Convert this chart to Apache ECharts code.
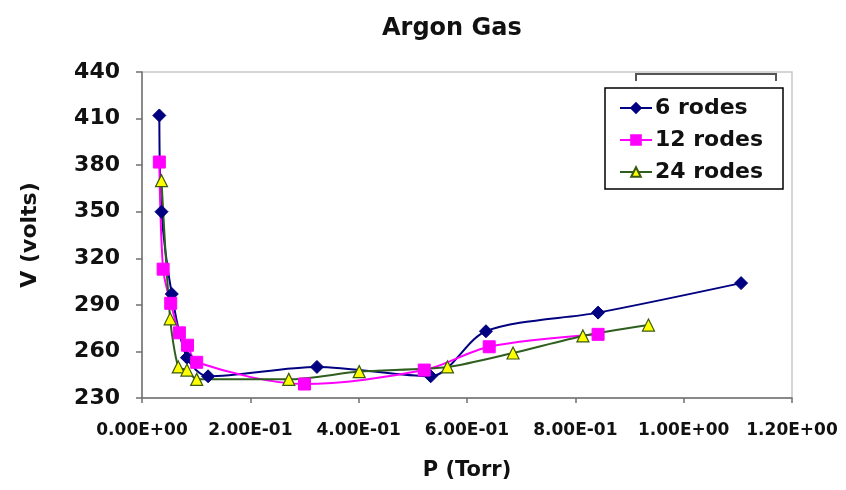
<!DOCTYPE html>
<html>
<head>
<meta charset="utf-8">
<script src="https://cdn.jsdelivr.net/npm/echarts@6/dist/echarts.min.js"></script>
<style>
html,body{margin:0;padding:0;background:#fff;}
#chart{width:846px;height:490px;}
</style>
</head>
<body>
<div id="chart"></div>
<script>
// Data (P in Torr, V in volts)
const rodes6P  = [0.032, 0.036, 0.055, 0.083, 0.122, 0.323, 0.533, 0.635, 0.842, 1.106];
const rodes6V  = [412,   350,   297,   256,   244,   250,   244,   273,   285,   304];
const rodes12P = [0.032, 0.039, 0.053, 0.069, 0.084, 0.101, 0.300, 0.521, 0.641, 0.842];
const rodes12V = [382,   313,   291,   272,   264,   253,   239,   248,   263,   271];
const rodes24P = [0.036, 0.052, 0.067, 0.083, 0.101, 0.271, 0.401, 0.564, 0.685, 0.814, 0.935];
const rodes24V = [370,   281,   250,   248,   242,   242,   247,   250,   259,   270,   277];
const seriesNames = ['6 rodes', '12 rodes', '24 rodes'];
const xTickLabels = ['0.00E+00','2.00E-01','4.00E-01','6.00E-01','8.00E-01','1.00E+00','1.20E+00'];
const yTickLabels = ['230','260','290','320','350','380','410','440'];

const pair = (xs, ys) => xs.map((x, i) => [x, ys[i]]);
const FONT = 'DejaVu Sans';

const chart = echarts.init(document.getElementById('chart'));
chart.setOption({
  backgroundColor: '#fff',
  animation: false,
  title: {
    text: 'Argon Gas',
    left: 377,
    top: 12,
    textStyle: {fontFamily: FONT, fontWeight: 'bold', fontSize: 24, color: '#111'}
  },
  grid: {
    left: 142, right: 54, top: 72, bottom: 92,
    show: true, borderColor: '#c8c8c8', borderWidth: 1.5, backgroundColor: 'transparent'
  },
  legend: {
    orient: 'vertical',
    left: 605, top: 88,
    padding: [9, 20, 6, 14],
    itemGap: 10,
    itemWidth: 32, itemHeight: 12,
    borderColor: '#000', borderWidth: 1.5,
    backgroundColor: '#fff',
    textStyle: {fontFamily: FONT, fontWeight: 'bold', fontSize: 22, color: '#111', padding: [0,0,0,-2]},
    data: seriesNames
  },
  xAxis: {
    type: 'value', min: 0, max: 1.2, interval: 0.2,
    name: 'P (Torr)', nameLocation: 'middle', nameGap: 62,
    nameTextStyle: {fontFamily: FONT, fontWeight: 'bold', fontSize: 21, color: '#111'},
    axisLine: {show: true, lineStyle: {color: '#707070', width: 1.5}},
    axisTick: {show: true, length: 5, lineStyle: {color: '#707070', width: 1.5}},
    splitLine: {show: false},
    axisLabel: {
      margin: 24, fontFamily: FONT, fontWeight: 'bold', fontSize: 17, color: '#111',
      formatter: v => xTickLabels[Math.round(v / 0.2)]
    }
  },
  yAxis: {
    type: 'value', min: 230, max: 440, interval: 30,
    name: 'V (volts)', nameLocation: 'middle', nameGap: 101, nameRotate: 90,
    nameTextStyle: {fontFamily: FONT, fontWeight: 'bold', fontSize: 22, color: '#111'},
    axisLine: {show: true, lineStyle: {color: '#707070', width: 1.5}},
    axisTick: {show: true, length: 6, lineStyle: {color: '#707070', width: 1.5}},
    splitLine: {show: false},
    axisLabel: {
      margin: 22, fontFamily: FONT, fontWeight: 'bold', fontSize: 22, color: '#111',
      formatter: v => yTickLabels[Math.round((v - 230) / 30)]
    }
  },
  graphic: [{
    type: 'polyline',
    shape: {points: [[636, 81], [636, 74], [776, 74], [776, 81]]},
    style: {stroke: '#555', lineWidth: 2, fill: null},
    z: 10
  }],
  series: [
    {
      name: seriesNames[0], type: 'line', smooth: 0.3,
      data: pair(rodes6P, rodes6V),
      symbol: 'diamond', symbolSize: 13,
      lineStyle: {color: '#000080', width: 2},
      itemStyle: {color: '#000080', borderColor: '#000080', borderWidth: 1}
    },
    {
      name: seriesNames[1], type: 'line', smooth: 0.3,
      data: pair(rodes12P, rodes12V),
      symbol: 'rect', symbolSize: 12,
      lineStyle: {color: '#ff00ff', width: 2},
      itemStyle: {color: '#ff00ff', borderColor: '#ff00ff', borderWidth: 1}
    },
    {
      name: seriesNames[2], type: 'line', smooth: 0.25,
      data: pair(rodes24P, rodes24V),
      symbol: 'triangle', symbolSize: 12,
      lineStyle: {color: '#2f5f1f', width: 2},
      itemStyle: {color: '#ffff00', borderColor: '#3a5a10', borderWidth: 1.2}
    }
  ]
});
</script>
</body>
</html>
